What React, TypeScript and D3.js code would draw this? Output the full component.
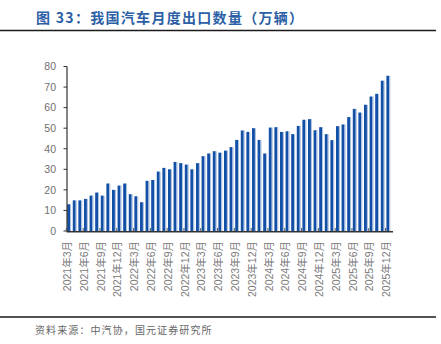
import React from "react";
import * as d3 from "d3";

const years = [2021, 2022, 2023, 2024, 2025];
const months: string[] = [];
years.forEach((y) => {
  for (let m = 1; m <= 12; m++) {
    if (y === 2021 && m < 3) continue;
    months.push(`${y}年${m}月`);
  }
});

const exportsWan = [
  13.0, 14.9, 14.9, 15.6, 17.2, 18.7, 17.2, 23.1, 20.0, 22.1,
  23.1, 17.9, 16.9, 14.0, 24.4, 24.8, 28.9, 30.7, 30.0, 33.6, 33.0, 32.3,
  30.0, 33.0, 36.4, 37.7, 38.8, 38.1, 39.1, 40.8, 44.3, 48.9, 48.2, 50.0,
  44.3, 37.7, 50.3, 50.5, 48.2, 48.5, 47.1, 51.1, 54.1, 54.4, 49.0, 50.5,
  47.1, 44.2, 51.0, 51.8, 55.4, 59.4, 57.6, 61.4, 65.4, 66.7, 73.1, 75.5,
];

const yTicks = [0, 10, 20, 30, 40, 50, 60, 70, 80];
const labelEvery = 3;

export default function App() {
  const W = 441;
  const H = 344;
  const x = d3.scaleBand<string>().domain(months).range([65.5, 392]).padding(0.3);
  const y = d3.scaleLinear().domain([0, 80]).range([231, 66.5]);
  const step = x.step();
  const bw = x.bandwidth();
  const font = "Arial, 'Liberation Sans', 'Noto Sans CJK SC', sans-serif";
  const labeled = months.filter((_, i) => i % labelEvery === 0);

  return (
    <div style={{ position: "absolute", left: 0, top: 0 }}>
      <svg width={W} height={H} style={{ display: "block" }}>
        <rect width={W} height={H} fill="#ffffff" />
        <text
          x={36}
          y={22.5}
          fill="#2c5fa6"
          fontSize={14}
          fontWeight="bold"
          letterSpacing={1.3}
          fontFamily="'Noto Sans CJK SC', sans-serif"
        >
          图 33：我国汽车月度出口数量（万辆）
        </text>
        <line x1={0} x2={436} y1={30.5} y2={30.5} stroke="#1a1a1a" strokeWidth={1.6} />

        {/* bars */}
        {months.map((m, i) => {
          const x0 = x(m)!;
          const yt = y(exportsWan[i]);
          return (
            <g key={m}>
              <rect x={x0} y={yt} width={bw - 1} height={y(0) - yt} fill="#1150a6" />
              <rect x={x0 + bw - 1} y={yt} width={1} height={y(0) - yt} fill="#a9bfe0" />
            </g>
          );
        })}

        {/* y axis */}
        <line x1={67} x2={67} y1={y(80)} y2={y(0)} stroke="#333" strokeWidth={1.2} />
        {yTicks.map((t) => (
          <g key={t}>
            <line x1={63.5} x2={67} y1={y(t)} y2={y(t)} stroke="#333" strokeWidth={1} />
            <text
              x={56}
              y={y(t) + 3.8}
              textAnchor="end"
              fontSize={10.5}
              fill="#6f6f6f"
              fontFamily={font}
            >
              {t}
            </text>
          </g>
        ))}

        {/* x axis */}
        <line x1={66.5} x2={393} y1={231.7} y2={231.7} stroke="#333" strokeWidth={1.6} />
        {labeled.map((m) => {
          const tx = x(m)! - (step - bw) / 2;
          return (
            <line key={"t" + m} x1={tx} x2={tx} y1={231} y2={228} stroke="#555" strokeWidth={1} />
          );
        })}
        {labeled.map((m) => {
          const cx = x(m)! + bw / 2 + 1.8;
          return (
            <text
              key={"l" + m}
              transform={`translate(${cx},${241}) rotate(-90)`}
              textAnchor="end"
              fontSize={10.5}
              fill="#7a7a7a"
              fontFamily={font}
            >
              {m}
            </text>
          );
        })}

        <line x1={0} x2={436} y1={317} y2={317} stroke="#1a1a1a" strokeWidth={1.6} />
        <text
          x={35}
          y={334}
          fontSize={10}
          fill="#666"
          fontFamily="'Noto Sans CJK SC', serif"
          letterSpacing={1.1}
        >
          资料来源：中汽协，国元证券研究所
        </text>
      </svg>
    </div>
  );
}
